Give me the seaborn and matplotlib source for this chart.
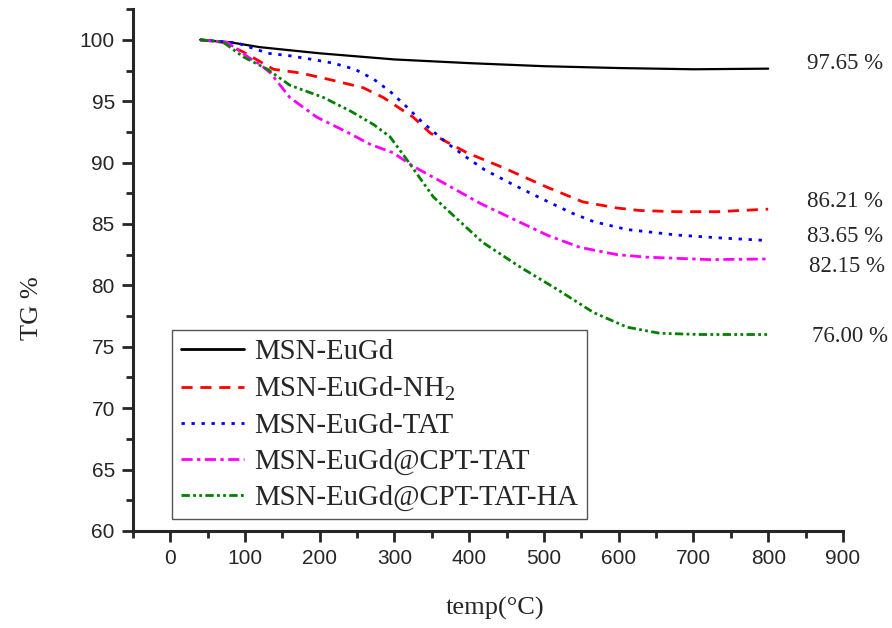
"""TG curves of MSN-EuGd samples, redrawn with seaborn."""

import matplotlib

matplotlib.use("Agg")
import matplotlib.pyplot as plt
import pandas as pd
import seaborn as sns
from matplotlib.ticker import MultipleLocator

# --- data -------------------------------------------------------------------
names = [
    "MSN-EuGd",
    "MSN-EuGd-NH$_{\\mathregular{2}}$",
    "MSN-EuGd-TAT",
    "MSN-EuGd@CPT-TAT",
    "MSN-EuGd@CPT-TAT-HA",
]

temp_base = [40, 80, 120, 200, 300, 400, 500, 600, 700, 800]
tg_base = [100, 99.8, 99.4, 98.9, 98.4, 98.1, 97.85, 97.7, 97.6, 97.65]

temp_nh2 = [40, 70, 98, 138, 174, 214, 258, 285, 300, 325, 348, 397, 445,
            504, 552, 598, 628, 678, 731, 800]
tg_nh2 = [100, 99.8, 99.0, 97.6, 97.3, 96.75, 96.1, 95.3, 94.7, 93.7, 92.4,
          90.8, 89.6, 88.0, 86.8, 86.3, 86.1, 86.0, 86.0, 86.21]

temp_tat = [40, 89, 131, 160, 190, 218, 247, 272, 294, 317, 337, 370, 397,
            421, 459, 499, 537, 566, 611, 678, 740, 800]
tg_tat = [100, 99.75, 98.9, 98.7, 98.4, 98.1, 97.6, 96.8, 95.8, 94.5, 93.3,
          91.6, 90.4, 89.4, 88.2, 87.0, 85.9, 85.2, 84.55, 84.1, 83.85, 83.65]

temp_cpt = [40, 76, 104, 120, 134, 160, 196, 236, 267, 298, 325, 370, 414,
            459, 504, 548, 598, 637, 722, 800]
tg_cpt = [100, 99.8, 98.6, 98.0, 97.3, 95.3, 93.7, 92.5, 91.5, 90.8, 89.7,
          88.2, 86.7, 85.4, 84.1, 83.1, 82.5, 82.3, 82.1, 82.15]

temp_ha = [40, 71, 98, 130, 160, 205, 241, 272, 294, 317, 352, 384, 418,
           468, 517, 566, 611, 655, 709, 800]
tg_ha = [100, 99.8, 98.6, 97.6, 96.3, 95.3, 94.2, 93.1, 92.1, 90.2, 87.2,
         85.4, 83.5, 81.5, 79.7, 77.8, 76.6, 76.1, 76.0, 76.0]

end_labels = ["97.65 %", "86.21 %", "83.65 %", "82.15 %", "76.00 %"]
end_label_y = [98.1, 86.8, 84.0, 81.5, 75.8]
end_label_x = [852, 852, 852, 854, 859]

# --- styles -------------------------------------------------------------------
colors = ["black", "#ff0000", "#0000ff", "#ff00ff", "#008000"]
dash_patterns = ["", (4, 2.8), (1.2, 2.4), (4, 1.6, 1.2, 1.6),
                 (3, 1.2, 1, 1.2, 1, 1.2)]

frames = []
for name, xs, ys in zip(names,
                        [temp_base, temp_nh2, temp_tat, temp_cpt, temp_ha],
                        [tg_base, tg_nh2, tg_tat, tg_cpt, tg_ha]):
    frames.append(pd.DataFrame({"temp": xs, "tg": ys, "sample": name}))
df = pd.concat(frames, ignore_index=True)

sns.set_style("ticks")
plt.rcParams["font.family"] = ["Liberation Serif", "DejaVu Serif"]
plt.rcParams["mathtext.fontset"] = "custom"
plt.rcParams["mathtext.rm"] = "Liberation Serif"
plt.rcParams["mathtext.it"] = "Liberation Serif:italic"

fig = plt.figure(figsize=(8.92, 6.28), dpi=100)
ax = fig.add_axes([0.149, 0.1545, 0.796, 0.831])

sns.lineplot(
    data=df, x="temp", y="tg", hue="sample", style="sample",
    hue_order=names, style_order=names,
    palette=dict(zip(names, colors)),
    dashes=dict(zip(names, dash_patterns)),
    linewidth=2.0, sort=True, ax=ax,
)
# solid black line is a touch thinner in the original
ax.lines[0].set_linewidth(1.6)

ax.set_xlim(-50, 900)
ax.set_ylim(60, 102.5)
ax.xaxis.set_major_locator(MultipleLocator(100))
ax.xaxis.set_minor_locator(MultipleLocator(50))
ax.yaxis.set_major_locator(MultipleLocator(5))
ax.yaxis.set_minor_locator(MultipleLocator(2.5))
sns.despine(ax=ax)
for side in ("left", "bottom"):
    ax.spines[side].set_linewidth(2.2)

ax.tick_params(which="major", direction="out", length=8, width=2, pad=5,
               labelsize=15)
ax.tick_params(which="minor", direction="out", length=5, width=2)
ax.set_xticks(range(0, 901, 100))
for lab in ax.get_xticklabels() + ax.get_yticklabels():
    lab.set_fontfamily(["Liberation Sans", "DejaVu Sans"])

ax.set_xlabel("temp(°C)", fontsize=19)
ax.set_ylabel("TG %", fontsize=19)
ax.xaxis.set_label_coords(0.51, -0.127)
ax.yaxis.set_label_coords(-0.127, 0.427)

handles, labels = ax.get_legend_handles_labels()
ax.legend(
    handles, labels, loc="upper left", bbox_to_anchor=(0.055, 0.385),
    borderaxespad=0, fancybox=False, framealpha=1, edgecolor="#555555",
    fontsize=20.7, handlelength=2.2, handletextpad=0.35, labelspacing=0.34,
    borderpad=0.3,
).get_frame().set_linewidth(1.0)

for txt, lx, ly in zip(end_labels, end_label_x, end_label_y):
    ax.text(lx, ly, txt, ha="left", va="center", fontsize=16.5, clip_on=False)

fig.savefig("out.png", dpi=100)
plt.close(fig)
